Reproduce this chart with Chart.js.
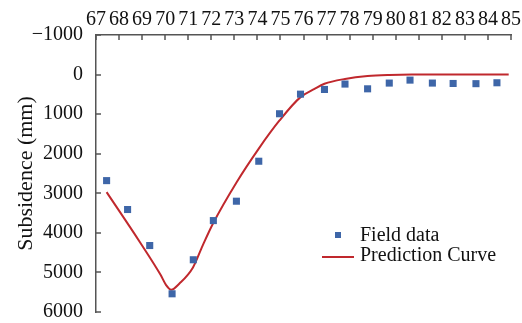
<!DOCTYPE html>
<html>
<head>
<meta charset="utf-8">
<script src="https://cdn.jsdelivr.net/npm/chart.js@4/dist/chart.umd.min.js"></script>
<style>
  html, body { margin: 0; padding: 0; background: #fff; }
  #wrap { width: 522px; height: 323px; }
</style>
</head>
<body>
<div id="wrap"><canvas id="subsidenceChart"></canvas></div>
<script>
// Field measurements (x position along the section, subsidence in mm)
const fieldX = [67.46, 68.37, 69.33, 70.30, 71.22, 72.09, 73.09, 74.06, 74.96, 75.87,
                76.91, 77.80, 78.78, 79.72, 80.62, 81.59, 82.49, 83.48, 84.39];
const fieldY = [2680, 3410, 4320, 5540, 4680, 3690, 3200, 2190, 990, 495,
                376, 240, 360, 215, 140, 215, 225, 230, 207];

// Prediction curve
const curveX = [67.46, 68.9, 69.8, 70.04, 70.26, 70.62, 71.2, 71.63, 72.07, 73.1,
                74.06, 74.96, 75.87, 76.48, 76.91, 77.8, 78.78, 79.72, 80.7, 82.5, 84.9];
const curveY = [2970, 4230, 5060, 5320, 5440, 5280, 4880, 4316, 3770, 2720,
                1870, 1160, 570, 360, 233, 110, 35, 8, 0, 0, 0];

// Axis ranges [min, max, step]
const xTicks = [67, 85, 1];
const yTicks = [-1000, 6000, 1000];

const serif = '"Liberation Serif", "Times New Roman", serif';
const axisColor = '#555555';
const blue = '#3E66A8';
const red = '#C0282D';

// inward tick marks + legend inside the plot
const extras = {
    id: 'extras',
    afterDraw(chart) {
        const ctx = chart.ctx;
        const xs = chart.scales.x;
        const ys = chart.scales.y;
        ctx.save();
        ctx.strokeStyle = axisColor;
        ctx.lineWidth = 1.5;
        ctx.beginPath();
        for (let v = xTicks[0]; v <= xTicks[1]; v += xTicks[2]) {
            const px = Math.round(xs.getPixelForValue(v));
            ctx.moveTo(px, chart.chartArea.top);
            ctx.lineTo(px, chart.chartArea.top + 5);
        }
        for (let v = yTicks[0]; v <= yTicks[1]; v += yTicks[2]) {
            const py = Math.round(ys.getPixelForValue(v));
            ctx.moveTo(chart.chartArea.left, py);
            ctx.lineTo(chart.chartArea.left + 5, py);
        }
        ctx.stroke();

        // legend
        ctx.font = '20px ' + serif;
        ctx.textBaseline = 'middle';
        ctx.fillStyle = blue;
        ctx.fillRect(335, 232, 6, 6);
        ctx.strokeStyle = red;
        ctx.lineWidth = 2;
        ctx.beginPath();
        ctx.moveTo(322, 257);
        ctx.lineTo(354, 257);
        ctx.stroke();
        ctx.fillStyle = '#111';
        ctx.fillText(chart.data.datasets[0].label, 360, 236);
        ctx.fillText(chart.data.datasets[1].label, 360, 256);
        ctx.restore();
    }
};

const ctx = document.getElementById('subsidenceChart').getContext('2d');
new Chart(ctx, {
    type: 'scatter',
    data: {
        datasets: [
            {
                label: 'Field data',
                data: fieldX.map((x, i) => ({ x: x, y: fieldY[i] })),
                pointStyle: 'rect',
                pointRadius: 5,
                backgroundColor: blue,
                borderColor: blue,
                borderWidth: 0,
                order: 1
            },
            {
                label: 'Prediction Curve',
                type: 'line',
                data: curveX.map((x, i) => ({ x: x, y: curveY[i] })),
                borderColor: red,
                borderWidth: 2,
                pointRadius: 0,
                fill: false,
                cubicInterpolationMode: 'monotone',
                order: 2
            }
        ]
    },
    options: {
        responsive: true,
        maintainAspectRatio: false,
        animation: false,
        layout: { padding: { left: 0, right: 11, top: 0, bottom: 11 } },
        plugins: {
            legend: { display: false },
            tooltip: { enabled: false }
        },
        scales: {
            x: {
                type: 'linear',
                position: 'top',
                min: xTicks[0],
                max: xTicks[1],
                ticks: {
                    stepSize: xTicks[2],
                    color: '#111',
                    font: { family: serif, size: 20 },
                    padding: 3,
                    maxRotation: 0,
                    autoSkip: false
                },
                grid: { display: true, drawOnChartArea: false, drawTicks: false, tickLength: 0 },
                border: { color: axisColor, width: 1.5 },
                afterFit(scale) {
                    scale.height = 35;
                    scale.paddingLeft = 0;
                    scale.paddingRight = 0;
                }
            },
            y: {
                reverse: true,
                min: yTicks[0],
                max: yTicks[1],
                ticks: {
                    stepSize: yTicks[2],
                    color: '#111',
                    font: { family: serif, size: 20 },
                    padding: 13,
                    callback: v => (v < 0 ? '\u2212' + Math.abs(v) : String(v))
                },
                title: {
                    display: true,
                    text: 'Subsidence (mm)',
                    color: '#111',
                    font: { family: serif, size: 22 },
                    padding: { top: 13, bottom: 0 }
                },
                grid: { display: true, drawOnChartArea: false, drawTicks: false, tickLength: 0 },
                border: { color: axisColor, width: 1.5 },
                afterFit(scale) {
                    scale.width = 96;
                    scale.paddingTop = 0;
                    scale.paddingBottom = 0;
                }
            }
        }
    },
    plugins: [extras]
});
</script>
</body>
</html>
